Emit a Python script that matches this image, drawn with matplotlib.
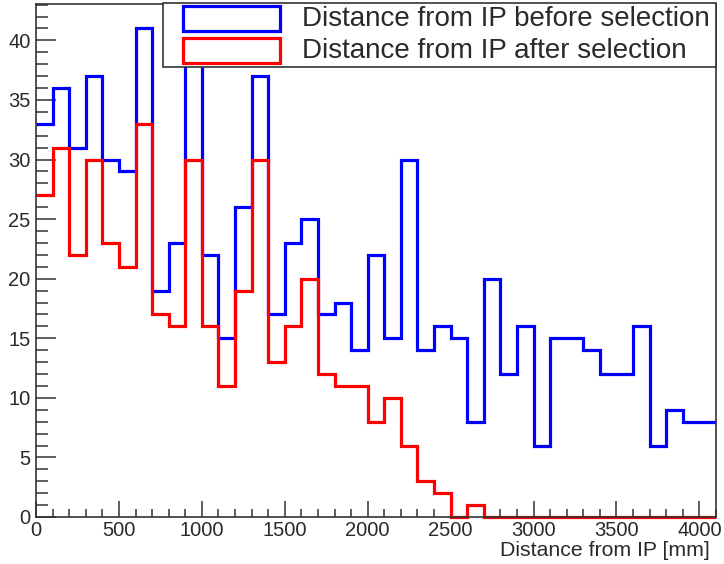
import numpy as np
import matplotlib
matplotlib.use("Agg")
import matplotlib.pyplot as plt
from matplotlib.patches import Rectangle
from matplotlib.ticker import MultipleLocator

plt.rcParams['font.family'] = ['Liberation Sans', 'DejaVu Sans']

# Histogram binning: 41 bins of 100 mm from 0 to 4100 mm
bin_edges = np.arange(0, 4101, 100)

counts_before = [33, 36, 31, 37, 30, 29, 41, 19, 23, 40,
                 22, 15, 26, 37, 17, 23, 25, 17, 18, 14,
                 22, 15, 30, 14, 16, 15, 8, 20, 12, 16,
                 6, 15, 15, 14, 12, 12, 16, 6, 9, 8, 8]
counts_after = [27, 31, 22, 30, 23, 21, 33, 17, 16, 30,
                16, 11, 19, 30, 13, 16, 20, 12, 11, 11,
                8, 10, 6, 3, 2, 0, 1, 0, 0, 0,
                0, 0, 0, 0, 0, 0, 0, 0, 0, 0, 0]

label_before = "Distance from IP before selection"
label_after = "Distance from IP after selection"
xlabel = "Distance from IP [mm]"

W, H = 724, 564
fig = plt.figure(figsize=(W / 100, H / 100), dpi=100)
ax = fig.add_axes([36 / W, (H - 517) / H, 680 / W, 513 / H])

ax.stairs(counts_before, bin_edges, color=(0, 0, 1), linewidth=2.3,
          baseline=None, zorder=3, clip_on=False)
ax.stairs(counts_after, bin_edges, color=(1, 0, 0), linewidth=2.3,
          baseline=None, zorder=4, clip_on=False)

ax.set_xlim(0, 4100)
ax.set_ylim(0, 1.05 * max(counts_before))

frame_col = "#333333"
text_col = "#2a2a2a"
for sp in ax.spines.values():
    sp.set_color(frame_col)
    sp.set_linewidth(1.2)
    sp.set_zorder(5)

ax.xaxis.set_major_locator(MultipleLocator(500))
ax.xaxis.set_minor_locator(MultipleLocator(100))
ax.yaxis.set_major_locator(MultipleLocator(5))
ax.yaxis.set_minor_locator(MultipleLocator(1))

ax.tick_params(axis='both', which='both', direction='in', colors=frame_col,
               width=1.1, labelsize=14.5, labelcolor=text_col)
ax.tick_params(axis='y', which='major', length=14.5, pad=4)
ax.tick_params(axis='y', which='minor', length=8.5)
ax.tick_params(axis='x', which='major', length=11.5, pad=3)
ax.tick_params(axis='x', which='minor', length=6)

ax.set_xlabel(xlabel, fontsize=15.3, color=text_col, ha='right', va='center')
ax.xaxis.set_label_coords((710 - 36) / 680, (517 - 550) / 513)

# Legend box drawn in axes fraction coordinates
lx0, ly0 = 0.1868, 0.877
box = Rectangle((lx0, ly0), 1.0 - lx0, 1.0 - ly0 + 0.002, transform=ax.transAxes,
                facecolor='white', edgecolor=frame_col, linewidth=1.2,
                zorder=10, clip_on=False)
ax.add_patch(box)

hx0, hw = (183 - 36) / 680, 97 / 680
hh = 25 / 513
entries = [(label_before, (0, 0, 1), (517 - 31) / 513),
           (label_after, (1, 0, 0), (517 - 63) / 513)]
for text, col, yb in entries:
    ax.add_patch(Rectangle((hx0, yb), hw, hh, transform=ax.transAxes,
                           facecolor='none', edgecolor=col, linewidth=2.3,
                           zorder=11, clip_on=False))
    ax.text((302 - 36) / 680, yb + hh / 2, text, transform=ax.transAxes,
            fontsize=20, color=text_col, va='center', ha='left', zorder=12)

fig.savefig("out.png", dpi=100)
